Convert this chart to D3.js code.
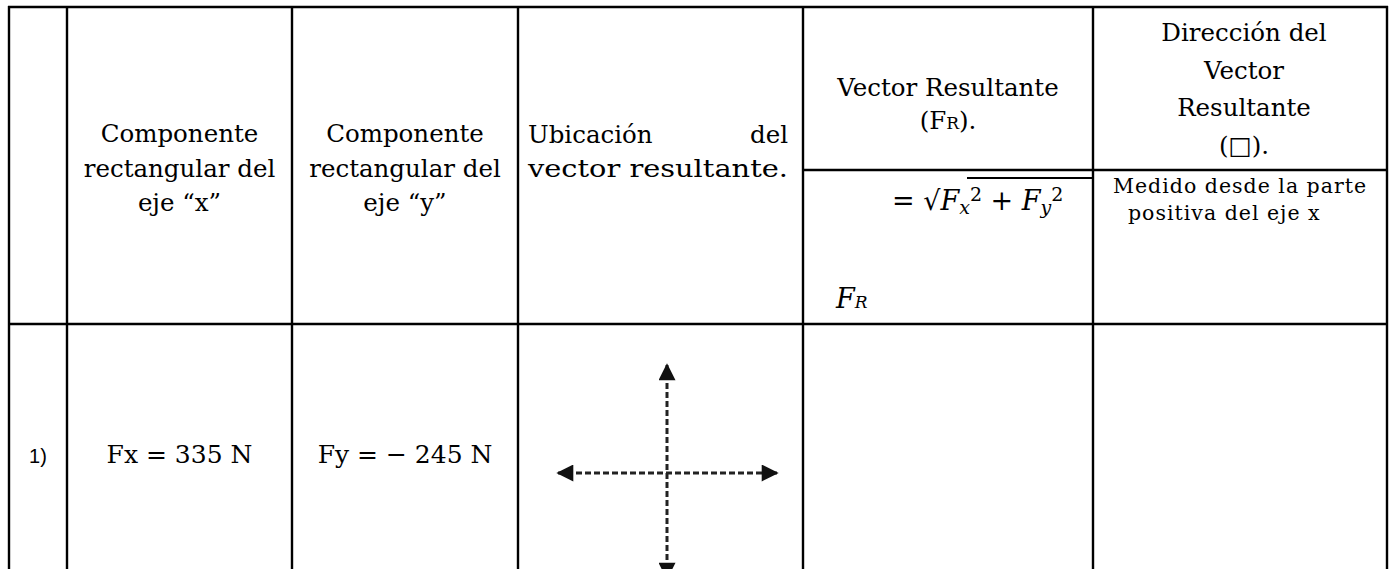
<!DOCTYPE html>
<html lang="es">
<head>
    <meta charset="UTF-8">
    <title>Vector resultante</title>
    <style>
        body {
            margin: 0;
            padding: 0;
            background-color: #ffffff;
        }
        .grid line {
            stroke: #000;
            stroke-width: 2.4;
        }
        .head {
            font-family: "DejaVu Serif", serif;
            font-size: 24.5px;
            fill: #000;
        }
        .note {
            font-family: "DejaVu Serif", serif;
            font-size: 20.5px;
            letter-spacing: 1px;
            fill: #000;
        }
        .value {
            font-family: "DejaVu Serif", serif;
            font-size: 25px;
            fill: #000;
        }
        .label {
            font-family: "Liberation Sans", Arial, sans-serif;
            font-size: 20px;
            fill: #000;
        }
        .math {
            font-family: "DejaVu Serif", serif;
            font-size: 27px;
            fill: #000;
        }
    </style>
</head>
<body>
    <svg width="1393" height="569"></svg>

    <script src="https://d3js.org/d3.v7.min.js"></script>
    <script>
        // table contents
        const headerX = ["Componente", "rectangular del", "eje “x”"];
        const headerY = ["Componente", "rectangular del", "eje “y”"];
        const headerLocation = [["Ubicación", "del"], ["vector resultante."]];
        const headerResult = ["Vector Resultante"];
        const headerDirection = ["Dirección del", "Vector", "Resultante", "(□)."];
        const directionNote = ["Medido desde la parte", "positiva del eje x"];
        const rowLabels = ["1)"];
        const fxValues = [335];
        const fyValues = [-245];

        const svg = d3.select("svg");

        // column edges and row edges of the table
        const colEdges = [9, 67, 292, 518, 803, 1093, 1387];
        const tableTop = 7, subLine = 170, headBottom = 324, tableBottom = 580;
        const mid = i => (colEdges[i] + colEdges[i + 1]) / 2;

        // grid
        const grid = svg.append("g").attr("class", "grid");
        grid.selectAll("line.v")
            .data(colEdges)
            .join("line")
            .attr("class", "v")
            .attr("x1", d => d).attr("x2", d => d)
            .attr("y1", tableTop - 1).attr("y2", tableBottom);
        grid.selectAll("line.h")
            .data([tableTop, headBottom])
            .join("line")
            .attr("class", "h")
            .attr("x1", colEdges[0] - 1).attr("x2", colEdges[6] + 1)
            .attr("y1", d => d).attr("y2", d => d);
        grid.append("line")
            .attr("x1", colEdges[4]).attr("x2", colEdges[6])
            .attr("y1", subLine).attr("y2", subLine);

        // header columns 1 and 2
        const lineGap = 34.5;
        [[1, headerX], [2, headerY]].forEach(([c, lines]) => {
            svg.append("g").selectAll("text")
                .data(lines)
                .join("text")
                .attr("class", "head")
                .attr("text-anchor", "middle")
                .attr("x", mid(c))
                .attr("y", (d, i) => 142 + i * lineGap)
                .text(d => d);
        });

        // header column 3, justified text
        const locLeft = colEdges[3] + 10, locRight = colEdges[4] - 15;
        svg.append("text").attr("class", "head")
            .attr("x", locLeft).attr("y", 143)
            .text(headerLocation[0][0]);
        svg.append("text").attr("class", "head")
            .attr("x", locRight).attr("y", 143)
            .attr("text-anchor", "end")
            .text(headerLocation[0][1]);
        svg.append("text").attr("class", "head")
            .attr("x", locLeft).attr("y", 177)
            .attr("textLength", locRight - locLeft)
            .attr("lengthAdjust", "spacingAndGlyphs")
            .text(headerLocation[1][0]);

        // header column 4 (resultant vector)
        svg.append("text").attr("class", "head")
            .attr("text-anchor", "middle")
            .attr("x", mid(4)).attr("y", 96)
            .text(headerResult[0]);
        const fr = svg.append("text").attr("class", "head")
            .attr("text-anchor", "middle")
            .attr("x", mid(4)).attr("y", 129);
        fr.append("tspan").text("(F");
        fr.append("tspan").attr("font-size", 17).text("R");
        fr.append("tspan").text(").");

        // formula
        const f = svg.append("text").attr("class", "math")
            .attr("x", 892).attr("y", 210);
        f.append("tspan").text("= √");
        f.append("tspan").attr("font-style", "italic").text("F");
        f.append("tspan").attr("font-style", "italic").attr("font-size", 19).attr("dy", 4).text("x");
        f.append("tspan").attr("font-size", 19).attr("dy", -13).text("2");
        f.append("tspan").attr("dy", 9).text(" + ");
        f.append("tspan").attr("font-style", "italic").text("F");
        f.append("tspan").attr("font-style", "italic").attr("font-size", 19).attr("dy", 4).text("y");
        f.append("tspan").attr("font-size", 19).attr("dy", -13).text("2");
        svg.append("line")
            .attr("x1", 967).attr("x2", colEdges[5] - 1)
            .attr("y1", 178).attr("y2", 178)
            .attr("stroke", "#000").attr("stroke-width", 2);

        const fr2 = svg.append("text").attr("class", "math")
            .attr("x", 836).attr("y", 308)
            .attr("font-style", "italic");
        fr2.append("tspan").text("F");
        fr2.append("tspan").attr("font-size", 17).text("R");

        // header column 5 (direction)
        svg.append("g").selectAll("text")
            .data(headerDirection)
            .join("text")
            .attr("class", "head")
            .attr("text-anchor", "middle")
            .attr("x", mid(5) + 4)
            .attr("y", (d, i) => 41 + i * 37.5)
            .text(d => d);
        svg.append("g").selectAll("text")
            .data(directionNote)
            .join("text")
            .attr("class", "note")
            .attr("x", (d, i) => i === 0 ? 1113 : 1128)
            .attr("y", (d, i) => 193 + i * 27)
            .text(d => d);

        // data row
        const rowY = 463;
        svg.append("g").selectAll("text")
            .data(rowLabels)
            .join("text")
            .attr("class", "label")
            .attr("text-anchor", "middle")
            .attr("x", mid(0))
            .attr("y", rowY)
            .text(d => d);
        svg.append("g").selectAll("text")
            .data(fxValues)
            .join("text")
            .attr("class", "value")
            .attr("text-anchor", "middle")
            .attr("x", mid(1))
            .attr("y", rowY)
            .text(d => `Fx = ${d} N`);
        svg.append("g").selectAll("text")
            .data(fyValues)
            .join("text")
            .attr("class", "value")
            .attr("text-anchor", "middle")
            .attr("x", mid(2))
            .attr("y", rowY)
            .text(d => `Fy = ${d < 0 ? "− " + Math.abs(d) : d} N`);

        // axes sketch in the location cell
        const defs = svg.append("defs");
        defs.append("marker")
            .attr("id", "head")
            .attr("viewBox", "0 0 10 10")
            .attr("refX", 9).attr("refY", 5)
            .attr("markerUnits", "userSpaceOnUse")
            .attr("markerWidth", 18).attr("markerHeight", 17)
            .attr("orient", "auto-start-reverse")
            .append("path")
            .attr("d", "M0,0 L10,5 L0,10 Z")
            .attr("fill", "#111");

        const cx = 667, cy = 473;
        const cross = svg.append("g")
            .attr("stroke", "#222")
            .attr("stroke-width", 3)
            .attr("stroke-dasharray", "6,3");
        cross.append("line")
            .attr("x1", 558).attr("x2", 777)
            .attr("y1", cy).attr("y2", cy)
            .attr("marker-start", "url(#head)")
            .attr("marker-end", "url(#head)");
        cross.append("line")
            .attr("x1", cx).attr("x2", cx)
            .attr("y1", 365).attr("y2", 578)
            .attr("marker-start", "url(#head)")
            .attr("marker-end", "url(#head)");
    </script>
</body>
</html>
